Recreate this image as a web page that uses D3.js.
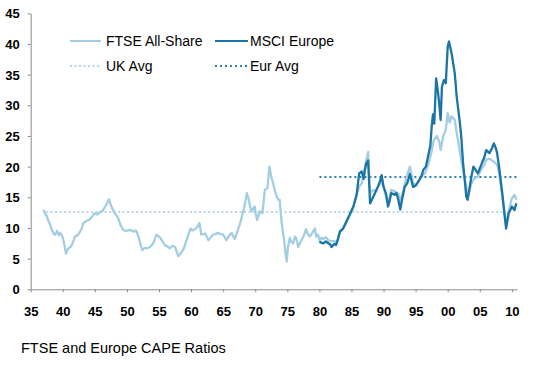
<!DOCTYPE html>
<html>
<head>
<meta charset="utf-8">
<script src="https://cdn.jsdelivr.net/npm/d3@7"></script>
<style>
  body { margin: 0; background: #fff; }
  svg { display: block; }
  .axis text { font-family: "Liberation Sans", Arial, sans-serif; font-size: 13px; font-weight: bold; fill: #000; }
  .axis path, .axis line { stroke: #8c8c8c; }
  .lbl { font-family: "Liberation Sans", Arial, sans-serif; font-size: 14px; fill: #000; }
  .cap { font-family: "Liberation Sans", Arial, sans-serif; font-size: 14.5px; fill: #000; }
</style>
</head>
<body>
<div id="chart"></div>
<script>
// FTSE All-Share CAPE, [year, ratio]
const ftse = [[1937.0,13.0],[1937.3,12.2],[1937.5,12.0],[1937.7,11.3],[1938.0,10.6],[1938.3,9.7],[1938.6,9.0],[1938.8,8.9],[1939.1,9.5],[1939.4,8.8],[1939.6,9.2],[1939.9,8.7],[1940.1,8.0],[1940.3,7.0],[1940.5,5.8],[1940.7,6.4],[1940.9,6.7],[1941.2,6.9],[1941.4,7.2],[1941.7,8.0],[1941.9,8.6],[1942.3,8.8],[1942.7,9.4],[1943.0,10.0],[1943.2,10.8],[1943.6,11.1],[1944.0,11.3],[1944.2,11.4],[1944.6,11.9],[1945.0,12.4],[1945.4,12.2],[1945.8,12.6],[1946.1,12.7],[1946.4,13.1],[1946.6,13.5],[1946.9,14.0],[1947.2,14.7],[1947.5,13.7],[1947.8,13.0],[1948.1,12.4],[1948.4,12.0],[1948.6,11.7],[1949.0,10.5],[1949.4,9.7],[1949.8,9.5],[1950.2,9.6],[1950.5,9.7],[1951.0,9.4],[1951.4,9.6],[1951.7,8.9],[1952.0,7.8],[1952.2,7.0],[1952.4,6.4],[1952.7,6.7],[1953.1,6.7],[1953.6,6.9],[1954.1,7.5],[1954.6,8.9],[1955.1,8.5],[1955.5,7.9],[1955.9,7.2],[1956.3,7.0],[1956.7,6.7],[1957.1,7.1],[1957.5,6.9],[1957.8,6.0],[1958.0,5.4],[1958.4,5.9],[1958.8,6.5],[1959.3,8.0],[1959.6,9.0],[1959.9,9.9],[1960.2,9.6],[1960.6,9.8],[1961.0,10.2],[1961.3,10.8],[1961.6,8.9],[1962.2,9.1],[1962.7,8.0],[1963.0,8.4],[1963.4,8.9],[1963.8,9.0],[1964.2,9.2],[1964.6,9.0],[1965.0,8.9],[1965.5,8.0],[1965.9,8.7],[1966.3,9.2],[1966.8,8.2],[1967.3,9.7],[1967.6,10.6],[1967.9,11.8],[1968.2,13.0],[1968.4,14.0],[1968.7,15.7],[1969.0,14.6],[1969.2,13.4],[1969.4,12.7],[1969.7,13.2],[1969.9,13.5],[1970.1,12.2],[1970.3,11.3],[1970.5,12.0],[1970.7,12.7],[1971.1,12.4],[1971.3,14.2],[1971.5,16.2],[1971.9,16.5],[1972.1,18.8],[1972.2,20.0],[1972.5,18.4],[1972.8,17.2],[1973.1,15.9],[1973.4,15.0],[1973.6,14.6],[1973.8,14.6],[1974.1,11.0],[1974.5,8.0],[1974.7,6.0],[1974.9,4.5],[1975.1,6.9],[1975.4,8.4],[1975.6,7.8],[1975.9,7.5],[1976.2,8.6],[1976.4,8.3],[1976.7,6.9],[1977.0,7.6],[1977.2,8.0],[1977.6,8.8],[1977.9,9.8],[1978.2,9.0],[1978.5,8.6],[1978.9,9.2],[1979.3,9.9],[1979.5,8.6],[1979.8,8.9],[1980.0,8.0],[1980.3,8.4],[1980.6,8.2],[1981.0,8.5],[1981.4,8.0],[1981.9,7.8],[1982.3,7.9],[1982.6,7.5],[1982.9,8.4],[1983.2,9.4],[1983.7,9.9],[1984.2,11.0],[1984.7,12.1],[1985.3,13.5],[1985.8,15.4],[1986.2,16.7],[1986.6,17.3],[1986.9,18.5],[1987.2,20.5],[1987.6,22.4],[1987.8,17.0],[1987.9,15.7],[1988.4,16.2],[1988.8,16.0],[1989.1,16.7],[1989.7,17.5],[1990.0,16.8],[1990.4,15.0],[1990.7,14.0],[1991.2,16.2],[1991.7,16.0],[1992.3,15.6],[1992.6,14.5],[1993.0,15.8],[1993.5,18.0],[1994.1,20.0],[1994.6,17.4],[1995.0,17.0],[1995.4,17.6],[1996.0,18.5],[1996.5,19.0],[1997.0,20.5],[1997.5,22.5],[1997.8,24.3],[1998.3,25.0],[1998.7,24.0],[1998.9,22.7],[1999.3,25.0],[1999.7,26.0],[2000.0,28.7],[2000.3,27.2],[2000.6,28.2],[2001.1,27.6],[2001.4,25.5],[2001.6,24.3],[2002.1,21.1],[2002.5,18.8],[2002.9,16.7],[2003.1,14.8],[2003.7,17.3],[2004.2,18.1],[2004.7,18.4],[2005.3,19.7],[2005.7,20.3],[2006.0,21.1],[2006.5,21.3],[2007.2,20.8],[2007.7,20.3],[2008.0,19.0],[2008.5,15.2],[2008.9,11.8],[2009.1,10.5],[2009.5,12.8],[2010.0,14.8],[2010.4,15.4],[2010.7,14.6]];

// MSCI Europe CAPE, [year, ratio]
const msci = [[1980.0,7.8],[1980.3,7.6],[1980.6,7.5],[1981.0,7.8],[1981.4,7.5],[1981.7,7.3],[1981.9,6.9],[1982.3,7.4],[1982.6,7.2],[1982.9,8.2],[1983.2,9.4],[1983.7,9.9],[1984.2,11.0],[1984.7,12.1],[1985.3,13.5],[1985.8,15.4],[1986.2,18.9],[1986.6,19.2],[1986.9,18.0],[1987.1,19.5],[1987.3,20.5],[1987.6,21.0],[1987.9,14.0],[1988.4,15.1],[1988.8,16.0],[1989.1,16.7],[1989.5,17.8],[1989.7,18.6],[1990.0,16.7],[1990.4,15.5],[1990.7,13.5],[1990.9,14.2],[1991.2,15.7],[1991.7,15.4],[1992.0,15.7],[1992.3,14.6],[1992.6,13.0],[1992.8,14.2],[1993.3,16.7],[1993.7,17.3],[1994.1,18.8],[1994.6,16.7],[1995.0,16.9],[1995.4,17.5],[1995.9,18.4],[1996.2,19.5],[1996.6,20.0],[1996.9,21.5],[1997.3,23.5],[1997.5,26.5],[1997.7,28.5],[1997.9,27.0],[1998.2,34.4],[1998.5,32.0],[1998.7,30.0],[1998.9,27.6],[1999.1,33.0],[1999.4,34.1],[1999.7,33.6],[2000.0,39.6],[2000.2,40.4],[2000.6,38.5],[2001.1,35.2],[2001.4,31.4],[2001.9,27.1],[2002.1,25.0],[2002.4,20.5],[2002.6,18.4],[2002.9,15.1],[2003.1,14.6],[2003.4,16.5],[2003.7,18.4],[2004.0,20.0],[2004.2,19.7],[2004.7,18.9],[2005.3,20.5],[2005.7,21.5],[2006.0,22.7],[2006.5,22.2],[2006.9,23.0],[2007.2,23.8],[2007.5,23.0],[2007.7,22.2],[2008.0,20.0],[2008.5,15.7],[2008.9,11.8],[2009.1,9.9],[2009.5,12.4],[2009.8,13.0],[2010.0,13.5],[2010.4,12.9],[2010.7,14.0]];

// long-run averages: [start, end, level]
const ukAvg = [1937.4, 2008.6, 12.6];
const eurAvg = [1980.0, 2010.8, 18.3];

const xTicks = d3.range(1935, 2011, 5);
const yTicks = d3.range(0, 46, 5);

const legendItems = [
  {name: "FTSE All-Share", color: "#a3cde2", dash: null},
  {name: "MSCI Europe", color: "#1b74a6", dash: null},
  {name: "UK Avg", color: "#b4d8e9", dash: "2,2.5"},
  {name: "Eur Avg", color: "#2a7fb0", dash: "2,3"}
];

const W = 538, H = 375;
const svg = d3.select("#chart").append("svg").attr("width", W).attr("height", H);

let x = d3.scaleLinear().domain([1935, 2010.8]).range([30.7, 517]);
let y = d3.scaleLinear().domain([0, 45]).range([289.3, 13.3]);

// axes
svg.append("g").attr("class", "axis")
    .attr("transform", "translate(" + x.range()[0] + ",0)")
    .call(d3.axisLeft(y).tickValues(yTicks).tickSize(3).tickSizeOuter(0).tickPadding(8))
    .call(g => g.selectAll("text").attr("dy", "0.36em"));

svg.append("g").attr("class", "axis")
    .attr("transform", "translate(0," + y(0) + ")")
    .call(d3.axisBottom(x).tickValues(xTicks).tickSize(3).tickSizeOuter(0).tickPadding(14)
        .tickFormat(d => String(d % 100).padStart(2, "0")));

// average lines
svg.append("line")
    .attr("x1", x(ukAvg[0])).attr("x2", x(ukAvg[1]))
    .attr("y1", y(ukAvg[2])).attr("y2", y(ukAvg[2]))
    .attr("stroke", legendItems[2].color).attr("stroke-width", 2)
    .attr("stroke-dasharray", legendItems[2].dash);

svg.append("line")
    .attr("x1", x(eurAvg[0])).attr("x2", x(eurAvg[1]))
    .attr("y1", y(eurAvg[2])).attr("y2", y(eurAvg[2]))
    .attr("stroke", legendItems[3].color).attr("stroke-width", 2)
    .attr("stroke-dasharray", legendItems[3].dash);

let line = d3.line().x(d => x(d[0])).y(d => y(d[1]));

svg.append("path").datum(ftse)
    .attr("d", line).attr("fill", "none")
    .attr("stroke", legendItems[0].color).attr("stroke-width", 2.3)
    .attr("stroke-linejoin", "round");

svg.append("path").datum(msci)
    .attr("d", line).attr("fill", "none")
    .attr("stroke", legendItems[1].color).attr("stroke-width", 2.3)
    .attr("stroke-linejoin", "round");

// legend
let legPos = [[70, 41], [215, 41], [70, 66], [215, 66]];
let leg = svg.selectAll(".leg").data(legendItems).enter().append("g")
    .attr("class", "leg")
    .attr("transform", (d, i) => "translate(" + legPos[i][0] + "," + legPos[i][1] + ")");
leg.append("line")
    .attr("x1", 0).attr("x2", (d, i) => i % 2 ? 33 : 31)
    .attr("stroke", d => d.color).attr("stroke-width", 2)
    .attr("stroke-dasharray", d => d.dash);
leg.append("text").attr("class", "lbl")
    .attr("x", (d, i) => i % 2 ? 35 : 36).attr("dy", "0.36em")
    .text(d => d.name);

// caption
svg.append("text").attr("class", "cap")
    .attr("x", 21).attr("y", 353)
    .text("FTSE and Europe CAPE Ratios");
</script>
</body>
</html>
